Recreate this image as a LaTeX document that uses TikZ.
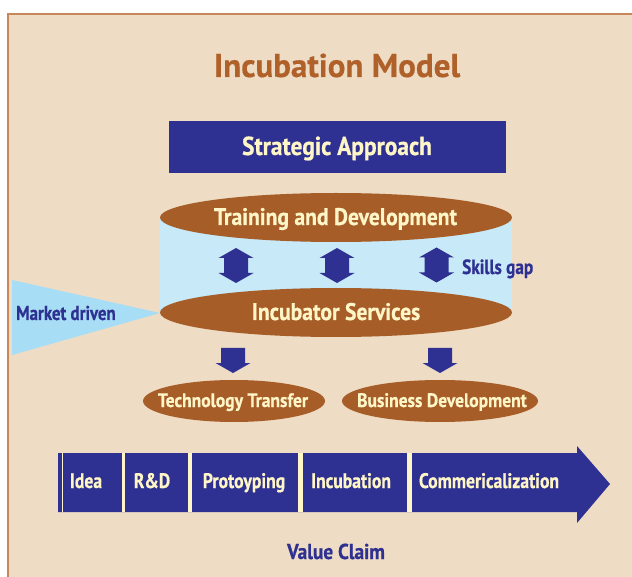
\documentclass[tikz,border=0pt]{standalone}
\usepackage{fontspec}
\setmainfont{PT Sans}[FakeStretch=0.9,FakeBold=0.6]
\newfontfamily\pfont{PT Sans}[FakeStretch=0.84,FakeBold=0.6]
\newfontfamily\tfont{PT Sans}[FakeStretch=1.0,FakeBold=0.4]
\usetikzlibrary{shapes.geometric}
\definecolor{bgc}{HTML}{EEDCC5}
\definecolor{framec}{HTML}{C8875A}
\definecolor{titlec}{HTML}{B0612A}
\definecolor{brownc}{HTML}{A65D28}
\definecolor{creamc}{HTML}{FFF6C8}
\definecolor{navyc}{HTML}{2E3192}
\definecolor{cylc}{HTML}{C7E9F8}
\definecolor{tric}{HTML}{A7DDF5}
\tikzset{
  ell/.style={ellipse, fill=brownc, draw=none, inner sep=0pt},
  lbl/.style={text=creamc, font=\bfseries\fontsize{#1}{#1}\selectfont, inner sep=0pt, anchor=base},
  plbl/.style={text=creamc, font=\pfont\bfseries\fontsize{#1}{#1}\selectfont, inner sep=0pt, anchor=base},
  blbl/.style={text=navyc, font=\bfseries\fontsize{#1}{#1}\selectfont, inner sep=0pt, anchor=base},
  sep/.style={fill=creamc},
  pics/dbl/.style={code={
    \fill[navyc] (0,-17.5) -- (17.5,-7.5) -- (12,-7.5) -- (12,7.5) -- (17.5,7.5) -- (0,17.5)
      -- (-17.5,7.5) -- (-12,7.5) -- (-12,-7.5) -- (-17.5,-7.5) -- cycle;}},
  pics/dwn/.style={code={
    \fill[navyc] (-12,0) -- (12,0) -- (12,15) -- (17.5,15) -- (0,25) -- (-17.5,15) -- (-12,15) -- cycle;}}
}
\begin{document}
\begin{tikzpicture}[x=1pt,y=-1pt]
\useasboundingbox (0,0) rectangle (632,577);
\fill[white] (0,0) rectangle (632,577);
\fill[bgc] (8,14) rectangle (632,577);
\draw[framec, line width=1.5pt] (8,577) -- (8,14) -- (632,14);

% title
\node[text=titlec, font=\tfont\bfseries\fontsize{33}{33}\selectfont, inner sep=0pt, anchor=base] (title) at (337,77) {Incubation Model};

% strategic approach
\node[fill=navyc, minimum width=337pt, minimum height=52pt, inner sep=0pt] (strat) at (337.5,147) {};
\node[lbl=26] (stratT) at (337,155) {Strategic Approach};

% market driven triangle
\fill[tric] (12,280) -- (160,313) -- (12,355) -- cycle;
\node[blbl=19.5, font=\pfont\bfseries\fontsize{20}{20}\selectfont, anchor=base west] (market) at (16,320) {Market driven};

% cylinder
\fill[cylc] (160,217.5) rectangle (512,312.5);
\node[ell, minimum width=352pt, minimum height=49pt] (train) at (336,217.5) {};
\node[ell, minimum width=352pt, minimum height=49pt] (incub) at (336,312.5) {};
\node[lbl=24] (trainT) at (335.5,225) {Training and Development};
\node[lbl=24] (incubT) at (336,320) {Incubator Services};

\pic at (236,265.5) {dbl};
\pic at (337,265.5) {dbl};
\pic at (436.5,265) {dbl};
\node[blbl=21, font=\pfont\bfseries\fontsize{20.5}{20.5}\selectfont, anchor=base west] (skills) at (462,274) {Skills gap};

% down arrows
\pic at (233,348) {dwn};
\pic at (440,348) {dwn};

% outputs
\node[ell, minimum width=182pt, minimum height=42pt] (tech) at (234,401) {};
\node[ell, minimum width=196pt, minimum height=42pt] (bus) at (440,401) {};
\node[lbl=19.5] (techT) at (233,407) {Technology Transfer};
\node[lbl=19.5] (busT) at (442,407) {Business Development};

% process arrow
\fill[navyc] (58,453) -- (577,453) -- (577,446) -- (610,484) -- (577,523) -- (577,512) -- (58,512) -- cycle;
\fill[sep] (61.8,453) rectangle (63.3,512);
\fill[sep] (121.8,453) rectangle (124.8,512);
\fill[sep] (187.5,453) rectangle (191.5,512);
\fill[sep] (298,453) rectangle (303,512);
\fill[sep] (406.5,453) rectangle (411.5,512);
\node[plbl=21] (p1) at (86,488) {Idea};
\node[plbl=21] (p2) at (152,488) {R\&D};
\node[plbl=21] (p3) at (244,488) {Protoyping};
\node[plbl=21] (p4) at (351,488) {Incubation};
\node[plbl=21] (p5) at (489,488) {Commericalization};

\node[blbl=21.5] (value) at (336,559) {Value Claim};
\end{tikzpicture}
\end{document}
